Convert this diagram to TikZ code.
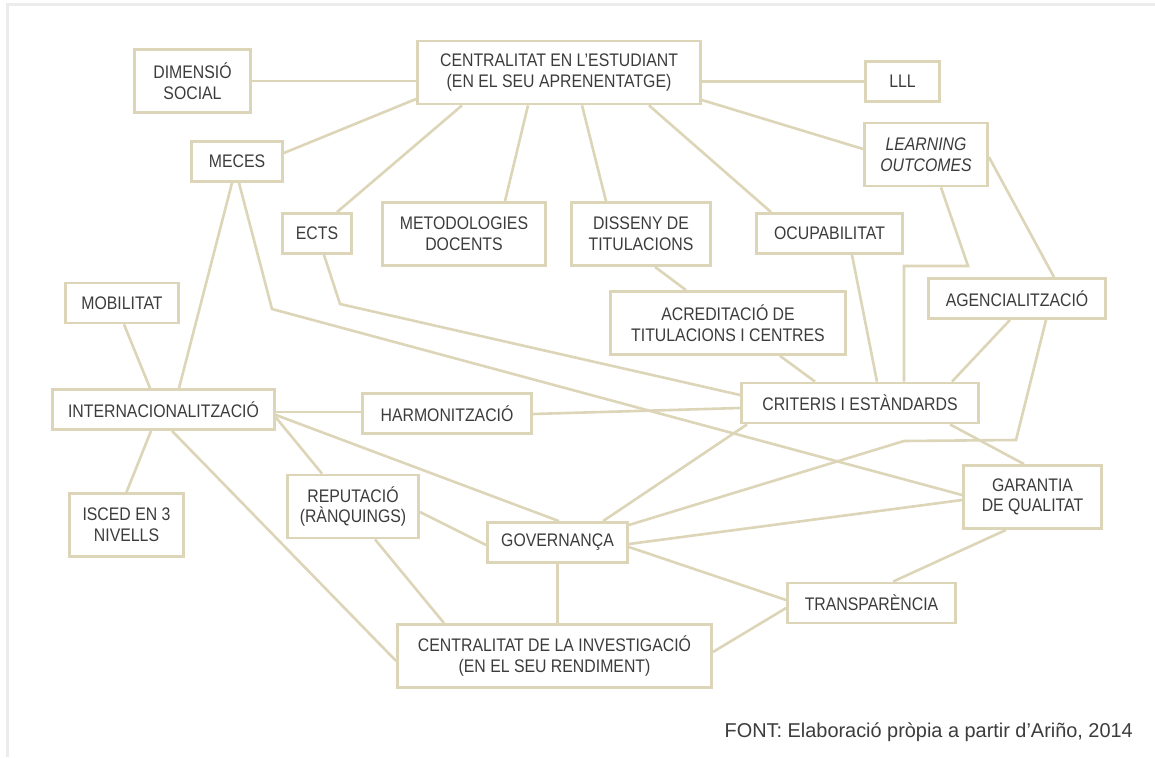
\documentclass[tikz,border=0pt]{standalone}
\usepackage{fontspec}
\setmainfont{Liberation Sans}[FakeStretch=0.87]
\newfontfamily\footfont{Liberation Sans}[FakeStretch=0.995]
\definecolor{beige}{RGB}{221,213,184}
\definecolor{ink}{RGB}{60,60,60}
\definecolor{framegray}{RGB}{236,236,236}

\begin{document}
\begin{tikzpicture}[x=1pt,y=-1pt,
  box/.style={draw=beige,line width=2.8pt,fill=white,inner sep=0pt,align=center,
    text=ink,font=\fontsize{18.2}{20.7}\selectfont},
  one/.style={box,minimum height=40pt},
  two/.style={box,minimum height=63pt},
  link/.style={draw=beige,line width=2.6pt}]

% canvas and light frame
\useasboundingbox (0,0) rectangle (1155,757);
\fill[white] (0,0) rectangle (1155,757);
\draw[framegray,line width=3pt] (7,757) -- (7,5) -- (1155,5);

% concepts
\node[two,minimum width=283pt] (cs)  at (559,72.5)   {CENTRALITAT EN L’ESTUDIANT\\(EN EL SEU APRENENTATGE)};
\node[two,minimum width=116pt] (dim) at (192.5,81)   {DIMENSIÓ\\SOCIAL};
\node[one,minimum width=74pt]  (lll) at (902.5,81.5) {LLL};
\node[two,minimum width=123pt,font=\fontsize{18.2}{20.7}\selectfont\itshape] (lo) at (926,154.5) {LEARNING\\OUTCOMES};
\node[one,minimum width=91pt]  (meces) at (237,161.5) {MECES};
\node[one,minimum width=69pt]  (ects) at (317,233.5) {ECTS};
\node[two,minimum width=163pt] (met) at (464,234)    {METODOLOGIES\\DOCENTS};
\node[two,minimum width=139pt] (dis) at (641,234)    {DISSENY DE\\TITULACIONS};
\node[one,minimum width=146pt] (ocu) at (829.5,233.5) {OCUPABILITAT};
\node[one,minimum width=113pt] (mob) at (122,303)    {MOBILITAT};
\node[one,minimum width=177pt] (age) at (1017,298.5) {AGENCIALITZACIÓ};
\node[two,minimum width=235pt] (acr) at (728,323)    {ACREDITACIÓ DE\\TITULACIONS I CENTRES};
\node[one,minimum width=222pt] (int) at (163.5,409.5) {INTERNACIONALITZACIÓ};
\node[one,minimum width=169pt] (har) at (447,413.5)  {HARMONITZACIÓ};
\node[one,minimum width=237pt] (cri) at (860,403)    {CRITERIS I ESTÀNDARDS};
\node[two,minimum width=131pt] (rep) at (353,506.5)  {REPUTACIÓ\\(RÀNQUINGS)};
\node[two,minimum width=114pt] (isc) at (126.5,525)  {ISCED EN 3\\NIVELLS};
\node[one,minimum width=140pt] (gov) at (557.5,542.5) {GOVERNANÇA};
\node[two,minimum width=138pt] (gar) at (1032.5,497) {GARANTIA\\DE QUALITAT};
\node[one,minimum width=168pt] (tra) at (871.5,603)  {TRANSPARÈNCIA};
\node[two,minimum width=314pt] (ci)  at (554.5,656)  {CENTRALITAT DE LA INVESTIGACIÓ\\(EN EL SEU RENDIMENT)};

% source line
\node[anchor=base east,inner sep=0pt,text=ink,font=\footfont\fontsize{20}{24}\selectfont] (src) at (1133,737)
  {FONT: Elaboració pròpia a partir d’Ariño, 2014};

% bends of the routed connectors
\coordinate (loA) at (968,266);
\coordinate (loB) at (904,266);
\coordinate (agA) at (1016,440);
\coordinate (agB) at (904,441);
\coordinate (meA) at (272,309);
\coordinate (ecA) at (340,304);

% connectors
\draw[link] (dim.east) -- (dim.east -| cs.west);
\draw[link] ([yshift=8.5pt]meces.east) -- ([yshift=-26.5pt]cs.west);
\draw[link] ([xshift=20pt]ects.north) -- ([xshift=-97pt]cs.south);
\draw[link] ([xshift=41pt]met.north) -- ([xshift=-31pt]cs.south);
\draw[link] ([xshift=-35pt]dis.north) -- ([xshift=23pt]cs.south);
\draw[link] ([xshift=-58.5pt]ocu.north) -- ([xshift=90pt]cs.south);
\draw[link] (lll.west -| cs.east) -- (lll.west);
\draw[link] ([yshift=-27.5pt]cs.east) -- ([yshift=5.5pt]lo.west);
\draw[link] ([yshift=-2.5pt]lo.east) -- ([xshift=37pt]age.north);
\draw[link] ([xshift=15pt]lo.south) -- (loA) -- (loB) -- ([xshift=44pt]cri.north);
\draw[link] ([xshift=22.5pt]ocu.south) -- ([xshift=17pt]cri.north);
\draw[link] ([xshift=14pt]dis.south) -- ([xshift=-42pt]acr.north);
\draw[link] ([xshift=52pt]acr.south) -- ([xshift=-45pt]cri.north);
\draw[link] ([xshift=-7pt]age.south) -- ([xshift=92pt]cri.north);
\draw[link] ([xshift=29pt]age.south) -- (agA) -- (agB) -- ([yshift=17.5pt]gov.east);
\draw[link] ([xshift=-5pt]meces.south) -- ([xshift=15.5pt]int.north);
\draw[link] ([xshift=2pt]meces.south) -- (meA) -- ([yshift=2pt]gar.west);
\draw[link] ([xshift=7pt]ects.south) -- (ecA) -- ([yshift=8pt]cri.west);
\draw[link] ([xshift=2pt]mob.south) -- ([xshift=-13.5pt]int.north);
\draw[link] ([yshift=-2.5pt]int.east) -- ([yshift=1.5pt]har.west);
\draw[link] ([yshift=-0.5pt]har.east) -- ([yshift=-5pt]cri.west);
\draw[link] ([yshift=-5.5pt]int.east) -- ([xshift=1.5pt]gov.north);
\draw[link] ([yshift=-8pt]int.east) -- ([xshift=-31pt]rep.north);
\draw[link] ([xshift=-12.5pt]int.south) -- (isc.north);
\draw[link] ([xshift=8.5pt]int.south) -- ([yshift=-5pt]ci.west);
\draw[link] ([yshift=-5.5pt]rep.east) -- ([yshift=-2.5pt]gov.west);
\draw[link] ([xshift=22pt]rep.south) -- ([xshift=-110.5pt]ci.north);
\draw[link] (gov.south) -- (gov.south |- ci.north);
\draw[link] ([xshift=-113pt]cri.south) -- ([xshift=45.5pt]gov.north);
\draw[link] ([xshift=90pt]cri.south) -- ([xshift=-8.5pt]gar.north);
\draw[link] ([yshift=-3pt]gar.west) -- ([yshift=-1.5pt]gov.east);
\draw[link] ([yshift=-4.5pt]gov.east) -- ([yshift=3pt]tra.west);
\draw[link] ([xshift=-26.5pt]gar.south) -- ([xshift=21.5pt]tra.north);
\draw[link] ([yshift=4pt]ci.east) -- ([yshift=-5pt]tra.west);
\end{tikzpicture}
\end{document}
